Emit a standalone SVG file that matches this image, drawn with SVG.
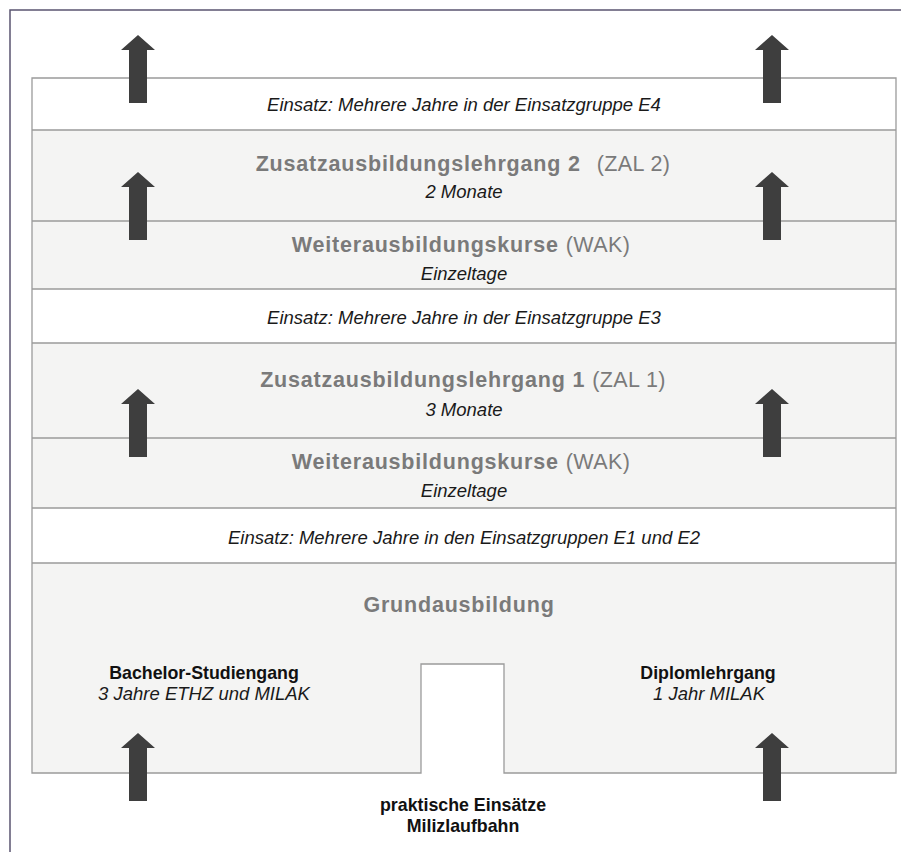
<svg xmlns="http://www.w3.org/2000/svg" width="901" height="852" viewBox="0 0 901 852">
<style>
.band{fill:#f4f4f3}
.white{fill:#ffffff}
.line{stroke:#9b9b9b;stroke-width:1.3;fill:none}
.frame{stroke:#5a5470;stroke-width:1.5;fill:none}
.arrow{fill:#3e3e3e}
.it{font-family:"Liberation Sans",Arial,sans-serif;font-style:italic;font-size:18.5px;fill:#1a1a1a;text-anchor:middle}
.hd{font-family:"Liberation Sans",Arial,sans-serif;font-weight:bold;font-size:21.5px;fill:#7a7a7a;letter-spacing:0.8px}
.ab{font-family:"Liberation Sans",Arial,sans-serif;font-size:21.5px;fill:#7a7a7a;letter-spacing:0.4px}
.bd{font-family:"Liberation Sans",Arial,sans-serif;font-weight:bold;font-size:17.8px;fill:#111;text-anchor:middle}
</style>
<defs>
<path id="up" d="M-9,0 V-53 H-17 L0,-68 L17,-53 H9 V0 Z"/>
</defs>
<rect width="901" height="852" fill="#ffffff"/>
<path class="frame" d="M10,852 V10 H901"/>

<g id="band-e4">
<rect class="white" x="32" y="78" width="864" height="52"/>
<text class="it" x="464" y="111">Einsatz: Mehrere Jahre in der Einsatzgruppe E4</text>
</g>
<g id="band-zal2">
<rect class="band" x="32" y="130" width="864" height="91"/>
<text x="463" y="171" text-anchor="middle"><tspan class="hd">Zusatzausbildungslehrgang 2</tspan><tspan class="ab" dx="16">(ZAL 2)</tspan></text>
<text class="it" x="464" y="198">2 Monate</text>
</g>
<g id="band-wak2">
<rect class="band" x="32" y="221" width="864" height="68"/>
<text x="461" y="252" text-anchor="middle"><tspan class="hd">Weiterausbildungskurse</tspan><tspan class="ab" dx="7">(WAK)</tspan></text>
<text class="it" x="464" y="280">Einzeltage</text>
</g>
<g id="band-e3">
<rect class="white" x="32" y="289" width="864" height="54"/>
<text class="it" x="464" y="324">Einsatz: Mehrere Jahre in der Einsatzgruppe E3</text>
</g>
<g id="band-zal1">
<rect class="band" x="32" y="343" width="864" height="95"/>
<text x="463" y="387" text-anchor="middle"><tspan class="hd">Zusatzausbildungslehrgang 1</tspan><tspan class="ab" dx="7">(ZAL 1)</tspan></text>
<text class="it" x="464" y="416">3 Monate</text>
</g>
<g id="band-wak1">
<rect class="band" x="32" y="438" width="864" height="70"/>
<text x="461" y="469" text-anchor="middle"><tspan class="hd">Weiterausbildungskurse</tspan><tspan class="ab" dx="7">(WAK)</tspan></text>
<text class="it" x="464" y="497">Einzeltage</text>
</g>
<g id="band-e12">
<rect class="white" x="32" y="508" width="864" height="55"/>
<text class="it" x="464" y="544">Einsatz: Mehrere Jahre in den Einsatzgruppen E1 und E2</text>
</g>
<g id="band-grund">
<path class="band" d="M32,563 H896 V773 H504 V664 H421 V773 H32 Z"/>
<text class="hd" x="459" y="612" text-anchor="middle">Grundausbildung</text>
</g>

<g id="lines">
<path class="line" d="M32,78 H896 V773 H504 V664 H421 V773 H32 Z"/>
<path class="line" d="M32,130 H896 M32,221 H896 M32,289 H896 M32,343 H896 M32,438 H896 M32,508 H896 M32,563 H896"/>
</g>

<g id="bachelor">
<text class="bd" x="204" y="679">Bachelor-Studiengang</text>
<text class="it" x="204" y="700">3 Jahre ETHZ und MILAK</text>
</g>
<g id="diplom">
<text class="bd" x="708" y="679">Diplomlehrgang</text>
<text class="it" x="709" y="700">1 Jahr MILAK</text>
</g>
<g id="praktisch">
<text class="bd" x="463" y="811">praktische Einsätze</text>
<text class="bd" x="463" y="832">Milizlaufbahn</text>
</g>

<g id="connectors">
<use href="#up" class="arrow" x="138" y="103"/>
<use href="#up" class="arrow" x="138" y="240"/>
<use href="#up" class="arrow" x="138" y="457"/>
<use href="#up" class="arrow" x="138" y="801"/>
<use href="#up" class="arrow" x="772" y="103"/>
<use href="#up" class="arrow" x="772" y="240"/>
<use href="#up" class="arrow" x="772" y="457"/>
<use href="#up" class="arrow" x="772" y="801"/>
</g>
</svg>
